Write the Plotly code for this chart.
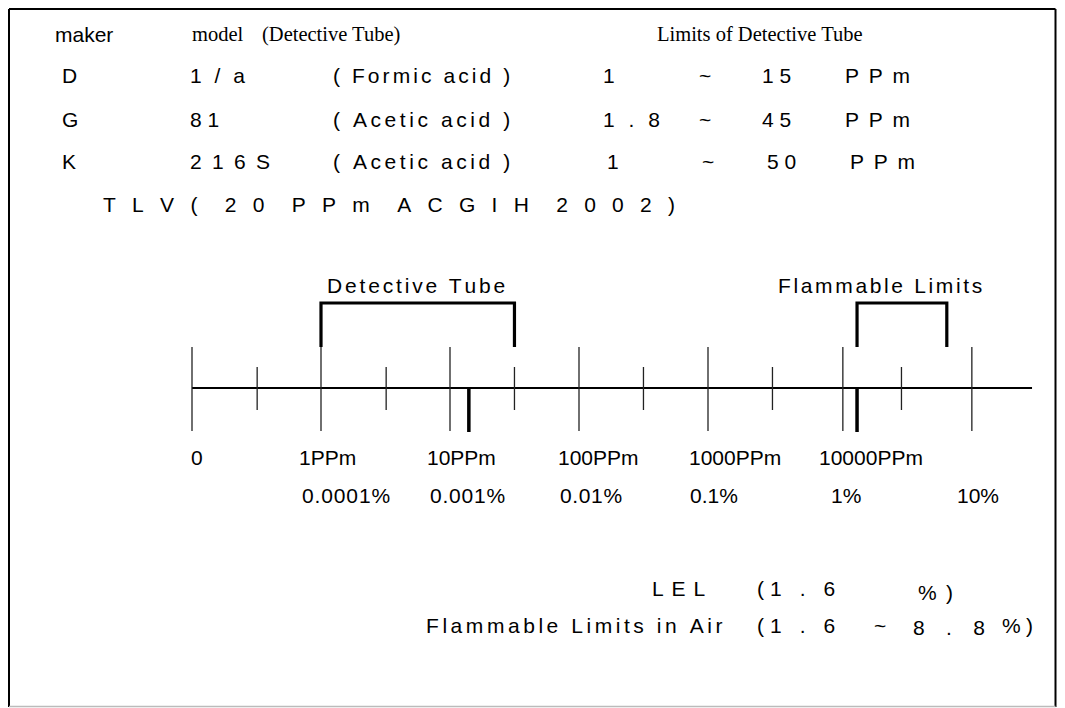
import plotly.graph_objects as go

# ---------------- data (ppm) ----------------
major_ticks_ppm = [0.1, 1, 10, 100, 1000, 11100, 111000]
minor_ticks_ppm = [0.32, 3.2, 31.6, 316, 3160, 31600]
axis_span_ppm = [0.1, 325000]
tube_range_ppm = [1, 31.6]
flam_range_ppm = [14300, 71000]
marks_ppm = [14, 14300]          # TLV mark, LEL mark

ppm_labels = ["0", "1PPm", "10PPm", "100PPm", "1000PPm", "10000PPm"]
pct_labels = ["0.0001%", "0.001%", "0.01%", "0.1%", "1%", "10%"]

makers = ["D", "G", "K"]
models = ["1 / a", "8 1", "2 1 6 S"]
gases = ["( Formic acid )", "( Acetic acid )", "( Acetic acid )"]
lim_low = ["1", "1 . 8", "1"]
lim_high = ["1 5", "4 5", "5 0"]

# ---------------- layout ----------------
PAGE_W, PAGE_H = 1065, 708
OFF = 8                      # browser body margin
W, H = PAGE_W - 2 * OFF, PAGE_H - OFF

SANS = "Liberation Sans, Arial, sans-serif"
SERIF = "Liberation Serif, Times New Roman, serif"
FS = 21

# Arial / Liberation Sans advance widths (per 1000 em)
AW = {" ": 278, "(": 333, ")": 333, ".": 278, "/": 278, "~": 584, "%": 889,
      "A": 667, "C": 722, "D": 722, "E": 667, "F": 611, "G": 778, "H": 722, "I": 278,
      "K": 667, "L": 556, "P": 667, "S": 667, "T": 611, "V": 667,
      "a": 556, "b": 556, "c": 500, "d": 556, "e": 556, "i": 222, "k": 500, "l": 222,
      "m": 833, "n": 556, "o": 556, "r": 333, "s": 500, "t": 278, "u": 556, "v": 500, "f": 278}
for d in "0123456789":
    AW[d] = 556


def fit(s, width, size=FS):
    nat = sum(AW.get(c, 556) for c in s) * size / 1000
    n = len(s) - 1
    g = (width - nat) / n if n > 0 else 0
    chars = [c if c != " " else "\u00a0" for c in s]
    if g <= 0.3:
        return "".join(chars)
    sep = '<span style="font-size:%.2fpx">\u00a0</span>' % (g / 0.278)
    return sep.join(chars)


def rx(px):
    return px - OFF


x0_log = (0 - rx(321)) / 129
x1_log = (W - rx(321)) / 129

AX_Y = rx(388)
MAJ = (rx(347), rx(431))
MIN = (rx(367), rx(410))
MARK_BOT = rx(432)
BR_TOP, BR_BOT = rx(303), rx(347)

fig = go.Figure()


def seglist(xs, y0, y1):
    X, Y = [], []
    for x in xs:
        X += [x, x, None]
        Y += [y0, y1, None]
    return X, Y


fig.add_trace(go.Scatter(x=axis_span_ppm, y=[AX_Y, AX_Y], mode="lines",
                         line=dict(color="black", width=2.2), hoverinfo="skip"))
X, Y = seglist(major_ticks_ppm, MAJ[0], MAJ[1])
fig.add_trace(go.Scatter(x=X, y=Y, mode="lines", line=dict(color="#222", width=1.3), hoverinfo="skip"))
X, Y = seglist(minor_ticks_ppm, MIN[0], MIN[1])
fig.add_trace(go.Scatter(x=X, y=Y, mode="lines", line=dict(color="#222", width=1.3), hoverinfo="skip"))
X, Y = seglist(marks_ppm, AX_Y, MARK_BOT)
fig.add_trace(go.Scatter(x=X, y=Y, mode="lines", line=dict(color="black", width=3.5), hoverinfo="skip"))

for rng in (tube_range_ppm, flam_range_ppm):
    fig.add_trace(go.Scatter(x=[rng[0], rng[0], rng[1], rng[1]],
                             y=[BR_BOT, BR_TOP, BR_TOP, BR_BOT], mode="lines",
                             line=dict(color="black", width=3.2), hoverinfo="skip"))

anns = []


def ann(text, px, py, anchor="left", font=SANS, size=FS):
    x = rx(px) + (-2 if anchor == "left" else (2 if anchor == "right" else 0))
    anns.append(dict(text=text, x=x / W, y=1 - rx(py) / H, xref="paper", yref="paper",
                     xanchor=anchor, yanchor="middle", showarrow=False,
                     font=dict(family=font, size=size, color="black")))


def span(s, left, right, py, size=FS):
    ann(fit(s, right - left, size), left, py, size=size)


# header rows
span("maker", 55, 110, 34)
ann("model", 192, 34, font=SERIF, size=20.5)
ann("(Detective Tube)", 262, 34, font=SERIF, size=20.5)
ann("Limits of Detective Tube", 657, 34, font=SERIF, size=20.5)

rows_y = [75, 119, 162]
model_w = [55, 28, 80]
low_w = [0, 57, 0]
for i, y in enumerate(rows_y):
    ann(makers[i], 62, y)
    span(models[i], 190, 190 + model_w[i], y)
    span(gases[i], 333, 510, y)
    xl = 607 if i == 2 else 603
    span(lim_low[i], xl, xl + low_w[i], y)
    ann("~", 708 if i == 2 else 705, y, anchor="center")
    xh = 767 if i == 2 else 762
    span(lim_high[i], xh, xh + 21, y)
    xp = 850 if i == 2 else 845
    span("P P m", xp, xp + 65, y)

span("T L V (  2 0  P P m  A C G I H  2 0 0 2 )", 103, 675, 205)

# bracket labels
span("Detective Tube", 327, 505, 285)
span("Flammable Limits", 778, 982, 285)

# axis labels
ppm_ext = [(192, 202), (303, 352), (430, 493), (560, 637), (692, 778), (820, 922)]
pct_ext = [(302, 390), (430, 505), (560, 622), (690, 737), (838, 853), (960, 995)]
for t, (l, r) in zip(ppm_labels, ppm_ext):
    ann(fit(t, r - l), (l + r) / 2, 457, anchor="center")
for t, (l, r) in zip(pct_labels, pct_ext):
    ann(fit(t, r - l), (l + r) / 2, 495, anchor="center")

# bottom notes
span("L E L", 652, 705, 588)
span("(1 . 6", 757, 835, 588)
span("%)", 918, 953, 588)
span("Flammable Limits in Air", 426, 722, 625)
span("(1 . 6", 757, 835, 625)
ann("~", 880, 625, anchor="center")
span("8 . 8", 913, 985, 625)
span("%)", 1002, 1033, 625)


def pline(x0, y0, x1, y1, color="black", width=2):
    return dict(type="line", xref="paper", yref="paper",
                x0=rx(x0) / W, x1=rx(x1) / W, y0=1 - rx(y0) / H, y1=1 - rx(y1) / H,
                line=dict(color=color, width=width))


# frame (edges sit as close to the page edge as the page margin allows)
RIGHT = OFF + W - 1.5
shapes = [
    pline(9, 9, 9, 707),
    pline(9, 9, RIGHT, 9),
    pline(RIGHT, 9, RIGHT, 707),
    pline(9, 706.5, RIGHT, 706.5, color="#bbbbbb", width=1.5),
]

fig.update_layout(
    width=W, height=H, margin=dict(l=0, r=0, t=0, b=0),
    paper_bgcolor="white", plot_bgcolor="white", showlegend=False,
    xaxis=dict(type="log", range=[x0_log, x1_log], visible=False, fixedrange=True),
    yaxis=dict(range=[H, 0], visible=False, fixedrange=True),
    annotations=anns, shapes=shapes,
)

fig.write_html("out.html")
